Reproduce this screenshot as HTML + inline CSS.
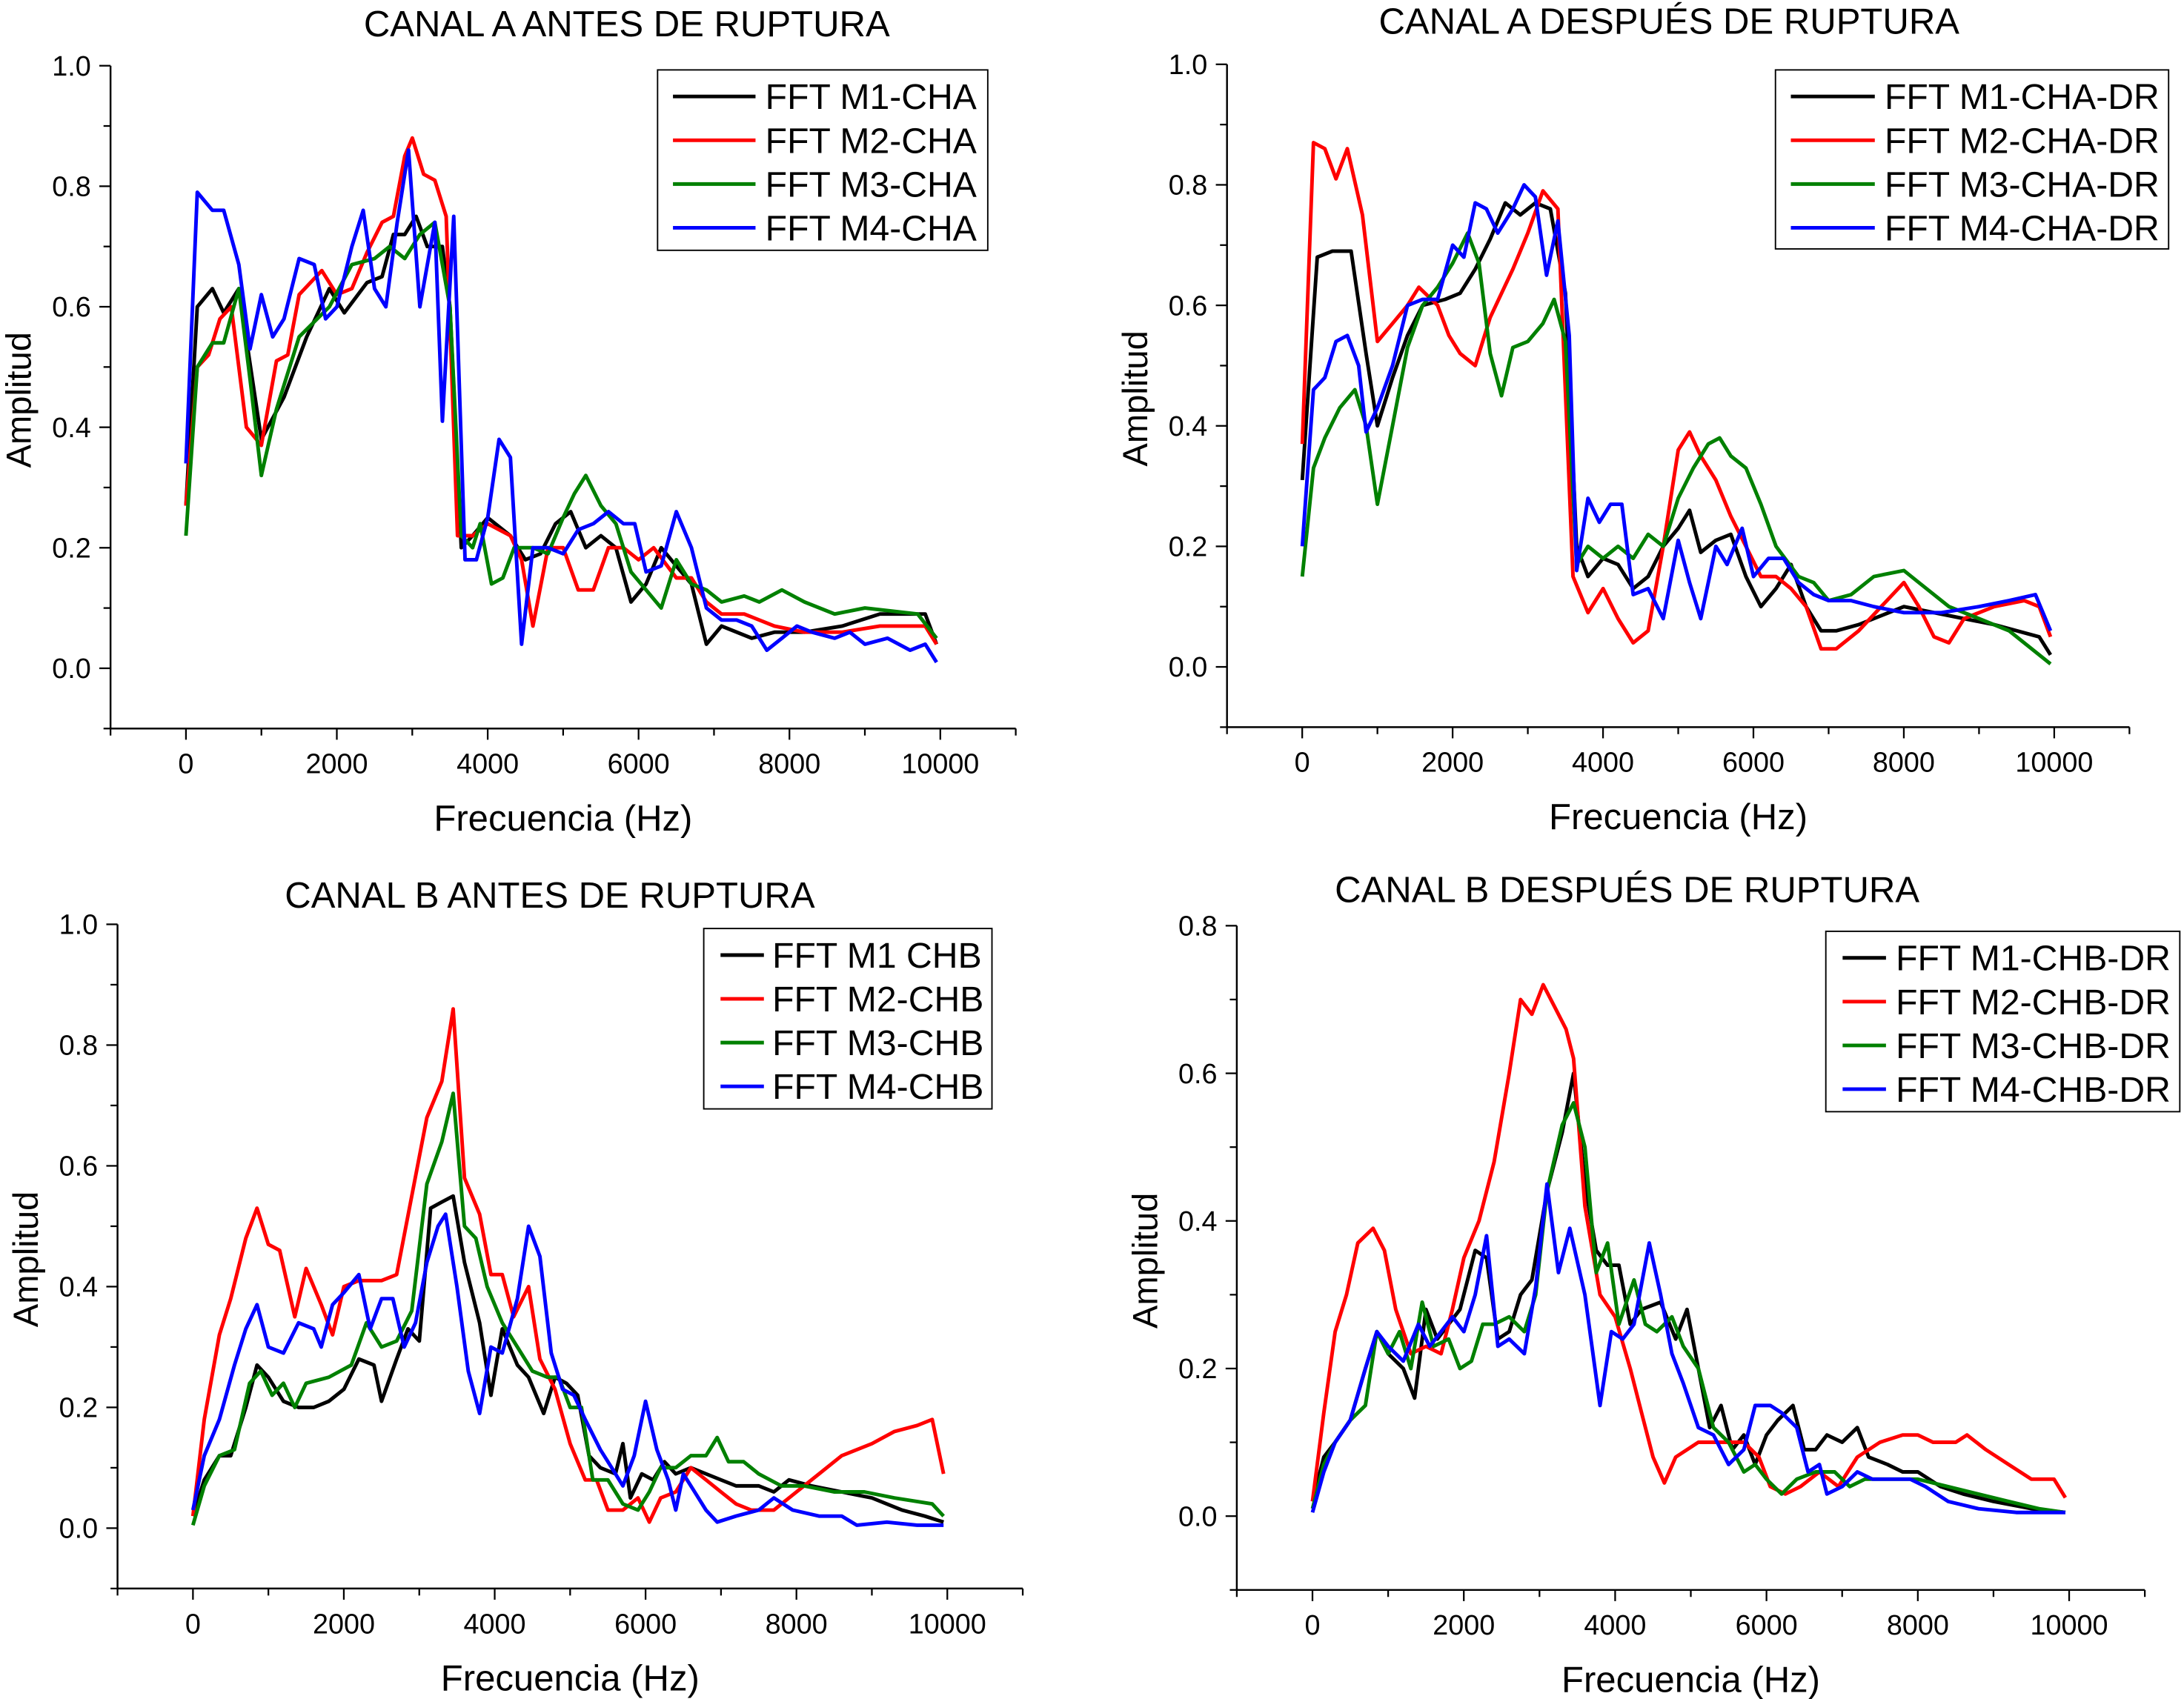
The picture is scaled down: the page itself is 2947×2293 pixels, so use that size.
<!DOCTYPE html>
<html><head><meta charset="utf-8"><style>
html,body{margin:0;padding:0;background:#fff;}
svg{display:block;font-family:"Liberation Sans",Arial,sans-serif;}
</style></head><body>
<svg id="fig" width="2947" height="2293" viewBox="0 0 1561 1215" preserveAspectRatio="none" xmlns="http://www.w3.org/2000/svg"></svg>
<script>
const xTicks = [0,2000,4000,6000,8000,10000];
const yTicks10 = [0.0,0.2,0.4,0.6,0.8,1.0];
const yTicks08 = [0.0,0.2,0.4,0.6,0.8];
const seriesColors = ["#000000","#ff0000","#008000","#0000ff"];

const A_M1 = [[0,.27],[150,.6],[350,.63],[500,.59],[700,.63],[1000,.38],[1300,.45],[1600,.55],[1900,.63],[2100,.59],[2400,.64],[2600,.65],[2750,.72],[2900,.72],[3050,.75],[3200,.7],[3400,.7],[3500,.6],[3650,.2],[3800,.22],[4000,.25],[4300,.22],[4500,.18],[4700,.19],[4900,.24],[5100,.26],[5300,.2],[5500,.22],[5700,.2],[5900,.11],[6100,.14],[6300,.2],[6500,.17],[6700,.14],[6900,.04],[7100,.07],[7500,.05],[7800,.06],[8200,.06],[8700,.07],[9200,.09],[9800,.09],[9950,.04]];
const A_M2 = [[0,.27],[150,.5],[300,.52],[450,.58],[600,.6],[800,.4],[1000,.37],[1200,.51],[1350,.52],[1500,.62],[1800,.66],[2000,.62],[2200,.63],[2400,.69],[2600,.74],[2750,.75],[2900,.85],[3000,.88],[3150,.82],[3300,.81],[3450,.75],[3600,.22],[3800,.22],[4000,.24],[4300,.22],[4450,.18],[4600,.07],[4800,.2],[5000,.2],[5200,.13],[5400,.13],[5600,.2],[5800,.2],[6000,.18],[6200,.2],[6500,.15],[6700,.15],[6900,.11],[7100,.09],[7400,.09],[7800,.07],[8200,.06],[8700,.06],[9200,.07],[9800,.07],[9950,.04]];
const A_M3 = [[0,.22],[150,.5],[350,.54],[500,.54],[700,.63],[850,.48],[1000,.32],[1200,.43],[1500,.55],[1900,.6],[2200,.67],[2500,.68],[2700,.7],[2900,.68],[3100,.72],[3300,.74],[3500,.6],[3650,.22],[3800,.2],[3900,.24],[4050,.14],[4200,.15],[4350,.2],[4600,.2],[4800,.19],[5000,.25],[5150,.29],[5300,.32],[5500,.27],[5700,.24],[5900,.16],[6100,.13],[6300,.1],[6500,.18],[6700,.14],[6900,.13],[7100,.11],[7400,.12],[7600,.11],[7900,.13],[8200,.11],[8600,.09],[9000,.1],[9700,.09],[9950,.05]];
const A_M4 = [[0,.34],[150,.79],[350,.76],[500,.76],[700,.67],[850,.53],[1000,.62],[1150,.55],[1300,.58],[1500,.68],[1700,.67],[1850,.58],[2000,.6],[2200,.7],[2350,.76],[2500,.63],[2650,.6],[2800,.74],[2950,.86],[3100,.6],[3300,.74],[3400,.41],[3550,.75],[3700,.18],[3850,.18],[4000,.25],[4150,.38],[4300,.35],[4450,.04],[4600,.2],[4800,.2],[5000,.19],[5200,.23],[5400,.24],[5600,.26],[5800,.24],[5950,.24],[6100,.16],[6300,.17],[6500,.26],[6700,.2],[6900,.1],[7100,.08],[7300,.08],[7500,.07],[7700,.03],[7900,.05],[8100,.07],[8300,.06],[8600,.05],[8800,.06],[9000,.04],[9300,.05],[9600,.03],[9800,.04],[9950,.01]];

const B_M1 = [[0,.31],[200,.68],[400,.69],[650,.69],[850,.52],[1000,.4],[1200,.48],[1400,.55],[1600,.6],[1900,.61],[2100,.62],[2300,.66],[2500,.71],[2700,.77],[2900,.75],[3100,.77],[3300,.76],[3500,.62],[3650,.2],[3800,.15],[4000,.18],[4200,.17],[4400,.13],[4600,.15],[4800,.2],[5000,.23],[5150,.26],[5300,.19],[5500,.21],[5700,.22],[5900,.15],[6100,.1],[6300,.13],[6500,.17],[6700,.1],[6900,.06],[7100,.06],[7400,.07],[7800,.09],[8000,.1],[8400,.09],[8800,.08],[9200,.07],[9800,.05],[9950,.02]];
const B_M2 = [[0,.37],[150,.87],[300,.86],[450,.81],[600,.86],[800,.75],[1000,.54],[1200,.57],[1400,.6],[1550,.63],[1800,.6],[1950,.55],[2100,.52],[2300,.5],[2500,.58],[2800,.66],[3000,.72],[3200,.79],[3400,.76],[3600,.15],[3800,.09],[4000,.13],[4200,.08],[4400,.04],[4600,.06],[4800,.2],[5000,.36],[5150,.39],[5300,.35],[5500,.31],[5700,.25],[5900,.2],[6100,.15],[6300,.15],[6500,.13],[6700,.1],[6900,.03],[7100,.03],[7400,.06],[7700,.1],[8000,.14],[8200,.1],[8400,.05],[8600,.04],[8800,.08],[9200,.1],[9600,.11],[9800,.1],[9950,.05]];
const B_M3 = [[0,.15],[150,.33],[300,.38],[500,.43],[700,.46],[850,.4],[1000,.27],[1200,.4],[1400,.53],[1600,.6],[1800,.63],[2000,.67],[2200,.72],[2350,.67],[2500,.52],[2650,.45],[2800,.53],[3000,.54],[3200,.57],[3350,.61],[3500,.54],[3650,.17],[3800,.2],[4000,.18],[4200,.2],[4400,.18],[4600,.22],[4800,.2],[5000,.28],[5200,.33],[5400,.37],[5550,.38],[5700,.35],[5900,.33],[6100,.27],[6300,.2],[6600,.15],[6800,.14],[7000,.11],[7300,.12],[7600,.15],[8000,.16],[8200,.14],[8600,.1],[9000,.08],[9400,.06],[9800,.02],[9950,.005]];
const B_M4 = [[0,.2],[150,.46],[300,.48],[450,.54],[600,.55],[750,.5],[850,.39],[1000,.43],[1200,.5],[1400,.6],[1600,.61],[1800,.61],[2000,.7],[2150,.68],[2300,.77],[2450,.76],[2600,.72],[2800,.76],[2950,.8],[3100,.78],[3250,.65],[3400,.74],[3550,.55],[3650,.16],[3800,.28],[3950,.24],[4100,.27],[4250,.27],[4400,.12],[4600,.13],[4800,.08],[5000,.21],[5150,.14],[5300,.08],[5500,.2],[5650,.17],[5850,.23],[6000,.15],[6200,.18],[6400,.18],[6600,.14],[6800,.12],[7000,.11],[7300,.11],[7600,.1],[8000,.09],[8500,.09],[9000,.1],[9400,.11],[9750,.12],[9950,.06]];

const C_M1 = [[0,.02],[150,.08],[350,.12],[500,.12],[700,.2],[850,.27],[1000,.25],[1200,.21],[1400,.2],[1600,.2],[1800,.21],[2000,.23],[2200,.28],[2400,.27],[2500,.21],[2700,.28],[2850,.33],[3000,.31],[3150,.53],[3300,.54],[3450,.55],[3600,.44],[3800,.34],[3950,.22],[4100,.33],[4300,.27],[4450,.25],[4650,.19],[4800,.25],[4950,.24],[5100,.22],[5250,.12],[5400,.1],[5600,.09],[5700,.14],[5800,.05],[5950,.09],[6100,.08],[6250,.11],[6400,.09],[6600,.1],[6800,.09],[7000,.08],[7200,.07],[7500,.07],[7700,.06],[7900,.08],[8200,.07],[8600,.06],[9000,.05],[9400,.03],[9700,.02],[9950,.01]];
const C_M2 = [[0,.02],[150,.18],[350,.32],[500,.38],[700,.48],[850,.53],[1000,.47],[1150,.46],[1350,.35],[1500,.43],[1700,.37],[1850,.32],[2000,.4],[2200,.41],[2500,.41],[2700,.42],[2900,.55],[3100,.68],[3300,.74],[3450,.86],[3600,.58],[3800,.52],[3950,.42],[4100,.42],[4250,.35],[4450,.4],[4600,.28],[4800,.23],[5000,.14],[5200,.08],[5350,.08],[5500,.03],[5700,.03],[5900,.05],[6050,.01],[6200,.05],[6400,.06],[6600,.1],[6800,.08],[7000,.06],[7200,.04],[7400,.03],[7700,.03],[8000,.06],[8300,.09],[8600,.12],[9000,.14],[9300,.16],[9600,.17],[9800,.18],[9950,.09]];
const C_M3 = [[0,.005],[150,.07],[350,.12],[550,.13],[750,.24],[900,.26],[1050,.22],[1200,.24],[1350,.2],[1500,.24],[1800,.25],[2100,.27],[2300,.34],[2500,.3],[2700,.31],[2900,.36],[3100,.57],[3300,.64],[3450,.72],[3600,.5],[3750,.48],[3900,.4],[4100,.34],[4300,.3],[4500,.26],[4700,.25],[4850,.25],[5000,.2],[5150,.2],[5300,.08],[5500,.08],[5700,.04],[5900,.03],[6050,.06],[6200,.1],[6400,.1],[6600,.12],[6800,.12],[6950,.15],[7100,.11],[7300,.11],[7500,.09],[7800,.07],[8100,.07],[8500,.06],[8900,.06],[9300,.05],[9800,.04],[9950,.02]];
const C_M4 = [[0,.03],[150,.12],[350,.18],[550,.27],[700,.33],[850,.37],[1000,.3],[1200,.29],[1400,.34],[1600,.33],[1700,.3],[1850,.37],[2000,.39],[2200,.42],[2350,.33],[2500,.38],[2650,.38],[2800,.3],[2950,.34],[3100,.44],[3250,.5],[3350,.52],[3500,.4],[3650,.26],[3800,.19],[3950,.3],[4100,.29],[4300,.38],[4450,.5],[4600,.45],[4750,.29],[4900,.23],[5050,.22],[5200,.18],[5400,.13],[5550,.1],[5700,.07],[5850,.12],[6000,.21],[6150,.13],[6300,.08],[6400,.03],[6500,.09],[6650,.06],[6800,.03],[6950,.01],[7200,.02],[7500,.03],[7700,.05],[7950,.03],[8300,.02],[8600,.02],[8800,.005],[9200,.01],[9600,.005],[9950,.005]];

const D_M1 = [[0,.02],[150,.08],[300,.1],[500,.13],[700,.2],[850,.25],[1000,.22],[1200,.2],[1350,.16],[1500,.28],[1650,.24],[1800,.26],[1950,.28],[2150,.36],[2300,.35],[2450,.24],[2600,.25],[2750,.3],[2900,.32],[3100,.44],[3300,.52],[3450,.6],[3600,.45],[3750,.36],[3900,.34],[4050,.34],[4200,.26],[4350,.28],[4600,.29],[4800,.24],[4950,.28],[5100,.2],[5250,.12],[5400,.15],[5550,.09],[5700,.11],[5850,.07],[6000,.11],[6150,.13],[6350,.15],[6500,.09],[6650,.09],[6800,.11],[7000,.1],[7200,.12],[7350,.08],[7600,.07],[7800,.06],[8000,.06],[8300,.04],[8600,.03],[9000,.02],[9500,.01],[9950,.005]];
const D_M2 = [[0,.02],[150,.14],[300,.25],[450,.3],[600,.37],[800,.39],[950,.36],[1100,.28],[1300,.22],[1500,.23],[1700,.22],[1850,.28],[2000,.35],[2200,.4],[2400,.48],[2600,.6],[2750,.7],[2900,.68],[3050,.72],[3200,.69],[3350,.66],[3450,.62],[3600,.42],[3800,.3],[4000,.27],[4200,.2],[4350,.14],[4500,.08],[4650,.045],[4800,.08],[5100,.1],[5400,.1],[5700,.1],[5900,.08],[6050,.04],[6250,.03],[6450,.04],[6700,.06],[6950,.04],[7200,.08],[7500,.1],[7800,.11],[8000,.11],[8200,.1],[8500,.1],[8650,.11],[8900,.09],[9200,.07],[9500,.05],[9800,.05],[9950,.025]];
const D_M3 = [[0,.01],[150,.07],[300,.1],[500,.13],[700,.15],[850,.25],[1000,.22],[1150,.25],[1300,.2],[1450,.29],[1600,.23],[1800,.24],[1950,.2],[2100,.21],[2250,.26],[2400,.26],[2600,.27],[2800,.25],[2950,.3],[3100,.44],[3300,.53],[3450,.56],[3600,.5],[3750,.33],[3900,.37],[4050,.26],[4250,.32],[4400,.26],[4550,.25],[4750,.27],[4900,.23],[5100,.2],[5300,.12],[5500,.1],[5700,.06],[5850,.07],[6000,.05],[6200,.03],[6400,.05],[6650,.06],[6900,.06],[7100,.04],[7300,.05],[7500,.05],[7800,.05],[8000,.05],[8400,.04],[8800,.03],[9200,.02],[9600,.01],[9950,.005]];
const D_M4 = [[0,.005],[150,.06],[300,.1],[500,.13],[700,.2],[850,.25],[1000,.23],[1200,.21],[1400,.26],[1550,.23],[1700,.25],[1850,.27],[2000,.25],[2150,.3],[2300,.38],[2450,.23],[2600,.24],[2800,.22],[2950,.31],[3100,.45],[3250,.33],[3400,.39],[3600,.3],[3800,.15],[3950,.25],[4100,.24],[4250,.26],[4450,.37],[4600,.3],[4750,.22],[4900,.18],[5100,.12],[5300,.11],[5500,.07],[5700,.09],[5850,.15],[6050,.15],[6200,.14],[6400,.12],[6550,.06],[6700,.07],[6800,.03],[7000,.04],[7200,.06],[7400,.05],[7700,.05],[7900,.05],[8100,.04],[8400,.02],[8800,.01],[9300,.005],[9950,.005]];

const A_labels = ["FFT M1-CHA","FFT M2-CHA","FFT M3-CHA","FFT M4-CHA"];
const B_labels = ["FFT M1-CHA-DR","FFT M2-CHA-DR","FFT M3-CHA-DR","FFT M4-CHA-DR"];
const C_labels = ["FFT M1 CHB","FFT M2-CHB","FFT M3-CHB","FFT M4-CHB"];
const D_labels = ["FFT M1-CHB-DR","FFT M2-CHB-DR","FFT M3-CHB-DR","FFT M4-CHB-DR"];

const NS="http://www.w3.org/2000/svg";
const svg=document.getElementById('fig');
function mk(tag,attrs,parent){const e=document.createElementNS(NS,tag);for(const k in attrs)e.setAttribute(k,attrs[k]);(parent||svg).appendChild(e);return e;}

const panels=[
 {id:'a',title:'CANAL A ANTES DE RUPTURA',tx:448,ty:25,box:[79,47,726,521],ymax:1.0,yt:yTicks10,series:[A_M1,A_M2,A_M3,A_M4],labels:A_labels,leg:[470,50,236,129],lo:[11,70,77]},
 {id:'b',title:'CANAL A DESPUÉS DE RUPTURA',tx:1193,ty:23,box:[877,46,1522,520],ymax:1.0,yt:yTicks10,series:[B_M1,B_M2,B_M3,B_M4],labels:B_labels,leg:[1269,50,281,128],lo:[11,71,78]},
 {id:'c',title:'CANAL B ANTES DE RUPTURA',tx:393,ty:648,box:[84,661,731,1136],ymax:1.0,yt:yTicks10,series:[C_M1,C_M2,C_M3,C_M4],labels:C_labels,leg:[503,664,206,129],lo:[12,43,49]},
 {id:'d',title:'CANAL B DESPUÉS DE RUPTURA',tx:1163,ty:644,box:[884,662,1533,1137],ymax:0.8,yt:yTicks08,series:[D_M1,D_M2,D_M3,D_M4],labels:D_labels,leg:[1305,666,253,129],lo:[12,43,50]}
];

panels.forEach(p=>{
 const g=mk('g',{});
 
 
 const [l,t,r,b]=p.box;
 const xs=v=>l+(v+1000)/12000*(r-l);
 const ys=v=>b-(v+0.1)/(p.ymax+0.1)*(b-t);
 const ti=mk('text',{x:p.tx,y:p.ty+1,'text-anchor':'middle','font-size':26},g);
 ti.textContent=p.title;
 
 
 const ax=mk('path',{d:`M${l},${t}V${b}H${r}`,stroke:'#000','stroke-width':1.3,fill:'none'},g);
 
 
 for(let v=-1000;v<=11000;v+=1000){
  const major=xTicks.includes(v);
  mk('line',{x1:xs(v),x2:xs(v),y1:b,y2:b+(major?8:5),stroke:'#000','stroke-width':1.2},g);
 }
 xTicks.forEach(v=>{
  const tx=mk('text',{x:xs(v),y:b+32,'text-anchor':'middle','font-size':20},g);
  tx.textContent=v;
  
  
 });
 for(let v=-0.1;v<=p.ymax+0.001;v+=0.1){
  const vv=Math.round(v*10)/10;
  const major=p.yt.some(q=>Math.abs(q-vv)<1e-6);
  mk('line',{x1:l,x2:l-(major?8:5),y1:ys(vv),y2:ys(vv),stroke:'#000','stroke-width':1.2},g);
 }
 p.yt.forEach(v=>{
  const ty=mk('text',{x:l-14,y:ys(v)+7,'text-anchor':'end','font-size':20},g);
  ty.textContent=v.toFixed(1);
  
  
 });
 const xl=mk('text',{x:(l+r)/2,y:b+73,'text-anchor':'middle','font-size':26},g);
 xl.textContent='Frecuencia (Hz)';
 
 
 const ycx=l-57, ycy=(t+b)/2+2;
 const yl=mk('text',{x:ycx,y:ycy,'text-anchor':'middle','font-size':25,transform:`rotate(-90 ${ycx} ${ycy})`},g);
 yl.textContent='Amplitud';
 
 
 p.series.forEach((s,i)=>{
  const d=s.map((pt,k)=>(k?'L':'M')+xs(pt[0]).toFixed(1)+','+ys(pt[1]).toFixed(1)).join('');
  const pl=mk('path',{d:d,stroke:seriesColors[i],'stroke-width':2.6,fill:'none','stroke-linejoin':'round'},g);
  
  
 });
 const [lx,ly,lw,lh]=p.leg;
 const lg=mk('g',{},g);
 
 
 mk('rect',{x:lx,y:ly,width:lw,height:lh,fill:'#fff',stroke:'#000','stroke-width':1},lg);
 p.labels.forEach((lab,i)=>{
  const cy=ly+19+i*31.3;
  mk('line',{x1:lx+p.lo[0],x2:lx+p.lo[1],y1:cy,y2:cy,stroke:seriesColors[i],'stroke-width':2.6},lg);
  const te=mk('text',{x:lx+p.lo[2],y:cy+9,'font-size':25.5},lg);
  te.textContent=lab;
  
  
 });
});
</script>
</body></html>
